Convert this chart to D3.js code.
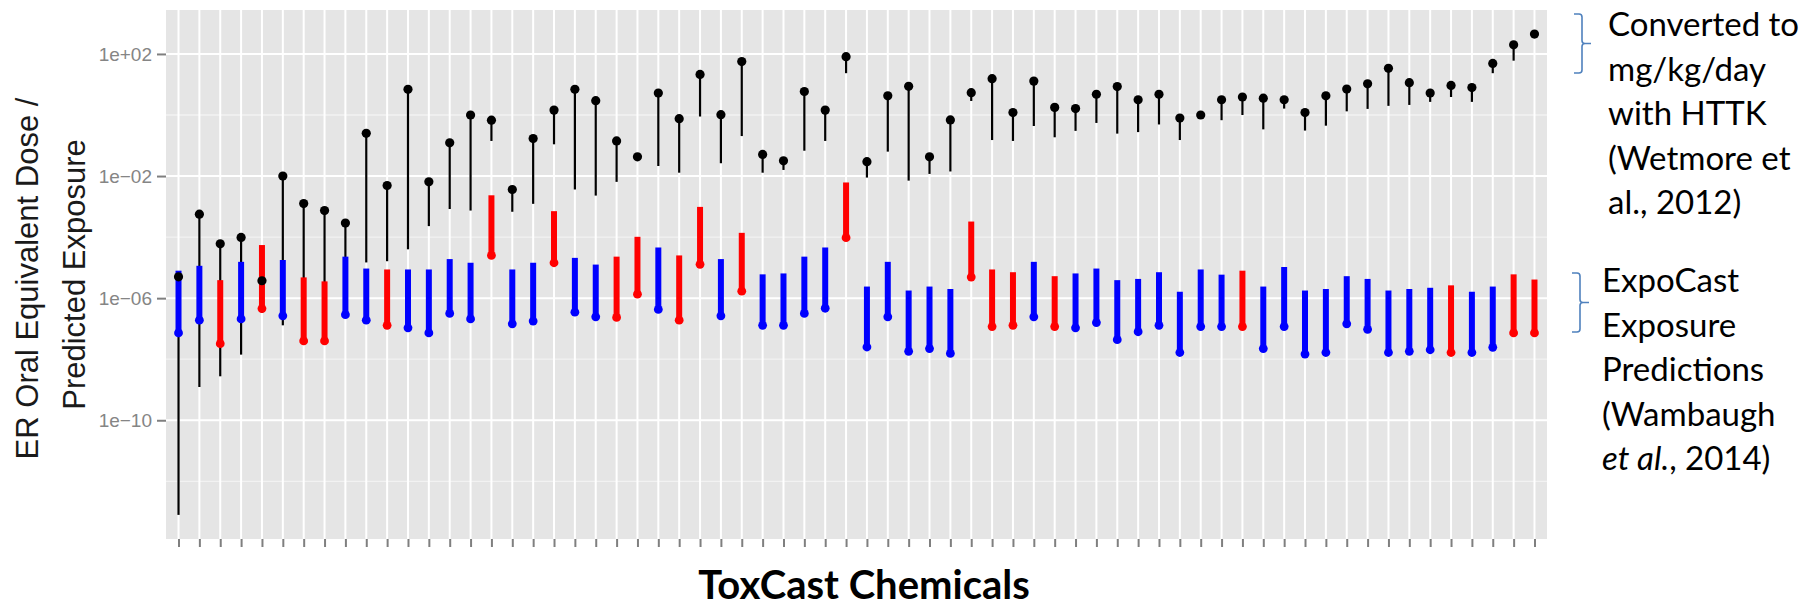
<!DOCTYPE html>
<html>
<head>
<meta charset="utf-8">
<script src="https://cdnjs.cloudflare.com/ajax/libs/d3/7.8.5/d3.min.js"></script>
<style>
  body { margin: 0; background: #fff; }
</style>
</head>
<body>
<div id="chart"></div>
<script>
// one entry per ToxCast chemical, values are log10
const doseTop = [-5.30, -3.25, -4.22, -4.01, -5.43, -2.00, -2.90, -3.13, -3.54, -0.60,
    -2.31, 0.84, -2.19, -0.91, 0.00, -0.17, -2.44, -0.77, 0.16, 0.84,
    0.47, -0.85, -1.37, 0.72, -0.12, 1.33, 0.01, 1.75, -1.29, -1.50,
    0.77, 0.16, 1.91, -1.53, 0.63, 0.94, -1.37, -0.16, 0.73, 1.19,
    0.08, 1.11, 0.25, 0.21, 0.68, 0.93, 0.50, 0.68, -0.10, 0.00,
    0.50, 0.59, 0.55, 0.50, 0.08, 0.63, 0.85, 1.02, 1.53, 1.06,
    0.72, 0.97, 0.90, 1.69, 2.30, 2.65];
const doseLow = [-13.10, -8.91, -8.56, -7.85, -6.48, -6.89, -6.00, -6.00, -5.50, -4.83,
    -4.79, -4.40, -3.64, -3.08, -3.13, -0.85, -3.17, -2.91, -0.96, -2.44,
    -2.64, -2.19, -1.45, -1.67, -1.89, -0.05, -1.58, -0.69, -1.89, -1.80,
    -1.17, -0.85, 1.37, -2.05, -1.20, -2.15, -1.93, -1.85, 0.46, -0.82,
    -0.85, -0.36, -0.73, -0.52, -0.26, -0.61, -0.56, -0.31, -0.82, -0.05,
    -0.17, 0.00, -0.47, 0.21, -0.51, -0.35, 0.12, 0.20, 0.30, 0.33,
    0.43, 0.59, 0.43, 1.37, 1.78, 2.55];
const expoHigh = [-5.10, -4.94, -5.41, -4.81, -4.26, -4.75, -5.32, -5.45, -4.64, -5.03,
    -5.06, -5.06, -5.06, -4.72, -4.84, -2.63, -5.06, -4.84, -3.15, -4.68,
    -4.90, -4.64, -3.99, -4.34, -4.60, -3.01, -4.72, -3.86, -5.22, -5.19,
    -4.64, -4.34, -2.21, -5.62, -4.81, -5.75, -5.62, -5.70, -3.49, -5.06,
    -5.15, -4.81, -5.28, -5.19, -5.03, -5.41, -5.37, -5.15, -5.79, -5.06,
    -5.23, -5.10, -5.62, -4.98, -5.75, -5.70, -5.28, -5.37, -5.75, -5.70,
    -5.66, -5.58, -5.79, -5.62, -5.22, -5.39];
const expoMedian = [-7.14, -6.72, -7.49, -6.68, -6.34, -6.58, -7.40, -7.40, -6.54, -6.72,
    -6.89, -6.97, -7.14, -6.50, -6.68, -4.60, -6.84, -6.75, -4.84, -6.46,
    -6.61, -6.63, -5.87, -6.37, -6.72, -4.89, -6.58, -5.77, -6.89, -6.89,
    -6.50, -6.33, -4.02, -7.60, -6.61, -7.74, -7.65, -7.81, -5.31, -6.93,
    -6.89, -6.61, -6.93, -6.97, -6.80, -7.36, -7.10, -6.89, -7.78, -6.93,
    -6.93, -6.93, -7.65, -6.93, -7.83, -7.78, -6.84, -7.02, -7.78, -7.74,
    -7.69, -7.78, -7.78, -7.61, -7.14, -7.14];
const expoGroup = ['A', 'A', 'B', 'A', 'B', 'A', 'B', 'B', 'A', 'A',
    'B', 'A', 'A', 'A', 'A', 'B', 'A', 'A', 'B', 'A',
    'A', 'B', 'B', 'A', 'B', 'B', 'A', 'B', 'A', 'A',
    'A', 'A', 'B', 'A', 'A', 'A', 'A', 'A', 'B', 'B',
    'B', 'A', 'B', 'A', 'A', 'A', 'A', 'A', 'A', 'A',
    'A', 'B', 'A', 'A', 'A', 'A', 'A', 'A', 'A', 'A',
    'A', 'B', 'A', 'A', 'B', 'B'];

const yMajorTicks = [1e2, 1e-2, 1e-6, 1e-10];
const yMinorTicks = [1e0, 1e-4, 1e-8, 1e-12];
const yTickLabels = ['1e+02', '1e\u221202', '1e\u221206', '1e\u221210'];
const yTitle = ['ER Oral Equivalent Dose /', 'Predicted Exposure'];
const xTitle = 'ToxCast Chemicals';
const noteTop = ['Converted to', 'mg/kg/day', 'with HTTK', '(Wetmore et', 'al., 2012)'];
const noteBottom = ['ExpoCast', 'Exposure', 'Predictions', '(Wambaugh', 'et al., 2014)'];

const W = 1816, H = 607;
const panel = { left: 166, right: 1547, top: 10, bottom: 539 };

const data = doseTop.map((d, i) => ({
    id: i,
    doseTop: Math.pow(10, d),
    doseLow: Math.pow(10, doseLow[i]),
    expoHigh: Math.pow(10, expoHigh[i]),
    expoMedian: Math.pow(10, expoMedian[i]),
    group: expoGroup[i]
}));

const svg = d3.select('#chart').append('svg')
    .attr('width', W)
    .attr('height', H)
    .style('font-family', '"Liberation Sans", Arial, sans-serif');

svg.append('rect').attr('width', W).attr('height', H).attr('fill', '#fff');

const x = d3.scalePoint()
    .domain(data.map(d => d.id))
    .range([panel.left, panel.right])
    .padding(0.6);

const y = d3.scaleLog()
    .domain([Math.pow(10, -13.89), Math.pow(10, 3.44)])
    .range([panel.bottom, panel.top]);

const color = d3.scaleOrdinal().domain(['A', 'B']).range(['#0000ff', '#ff0000']);

// panel + grid
svg.append('rect')
    .attr('x', panel.left).attr('y', panel.top)
    .attr('width', panel.right - panel.left)
    .attr('height', panel.bottom - panel.top)
    .attr('fill', '#e5e5e5');

svg.append('g').selectAll('line')
    .data(yMinorTicks)
    .enter().append('line')
    .attr('x1', panel.left).attr('x2', panel.right)
    .attr('y1', d => y(d)).attr('y2', d => y(d))
    .attr('stroke', '#f2f2f2')
    .attr('stroke-width', 1.3);

svg.append('g').selectAll('line')
    .data(yMajorTicks)
    .enter().append('line')
    .attr('x1', panel.left).attr('x2', panel.right)
    .attr('y1', d => y(d)).attr('y2', d => y(d))
    .attr('stroke', '#fff')
    .attr('stroke-width', 2);

svg.append('g').selectAll('line')
    .data(data)
    .enter().append('line')
    .attr('x1', d => x(d.id)).attr('x2', d => x(d.id))
    .attr('y1', panel.top).attr('y2', panel.bottom)
    .attr('stroke', '#fff')
    .attr('stroke-width', 2);

// axes
const yAxis = svg.append('g')
    .attr('transform', 'translate(' + panel.left + ',0)')
    .call(d3.axisLeft(y)
        .tickValues(yMajorTicks)
        .tickFormat((d, i) => yTickLabels[i])
        .tickSize(9)
        .tickPadding(5));
yAxis.select('.domain').remove();
yAxis.selectAll('line').attr('stroke', '#7f7f7f').attr('stroke-width', 2);
yAxis.selectAll('text')
    .attr('fill', '#858585')
    .style('font-size', '19px')
    .style('font-family', '"Liberation Sans", Arial, sans-serif');

const xAxis = svg.append('g')
    .attr('transform', 'translate(0,' + panel.bottom + ')')
    .call(d3.axisBottom(x).tickSize(8).tickFormat(''));
xAxis.select('.domain').remove();
xAxis.selectAll('line').attr('stroke', '#7f7f7f').attr('stroke-width', 2);

// dose ranges (black), exposure ranges (coloured)
svg.append('g').selectAll('line')
    .data(data)
    .enter().append('line')
    .attr('x1', d => x(d.id)).attr('x2', d => x(d.id))
    .attr('y1', d => y(d.doseTop)).attr('y2', d => y(d.doseLow))
    .attr('stroke', '#000')
    .attr('stroke-width', 2.2);

svg.append('g').selectAll('line')
    .data(data)
    .enter().append('line')
    .attr('x1', d => x(d.id)).attr('x2', d => x(d.id))
    .attr('y1', d => y(d.expoHigh)).attr('y2', d => y(d.expoMedian))
    .attr('stroke', d => color(d.group))
    .attr('stroke-width', 6);

svg.append('g').selectAll('circle')
    .data(data)
    .enter().append('circle')
    .attr('cx', d => x(d.id))
    .attr('cy', d => y(d.doseTop))
    .attr('r', 4.6)
    .attr('fill', '#000');

svg.append('g').selectAll('circle')
    .data(data)
    .enter().append('circle')
    .attr('cx', d => x(d.id))
    .attr('cy', d => y(d.expoMedian))
    .attr('r', 4.4)
    .attr('fill', d => color(d.group));

// axis titles
const yt = svg.append('g')
    .attr('transform', 'translate(0,' + ((panel.top + panel.bottom) / 2 + 1) + ') rotate(-90)');
yt.selectAll('text')
    .data(yTitle)
    .enter().append('text')
    .attr('x', (d, i) => i === 0 ? -3 : 1)
    .attr('y', (d, i) => i === 0 ? 37.5 : 85)
    .attr('text-anchor', 'middle')
    .attr('fill', '#1a1a1a')
    .style('font-size', '31px')
    .text(d => d);

svg.append('text')
    .attr('x', 864)
    .attr('y', 599)
    .attr('text-anchor', 'middle')
    .style('font-family', 'Lato, "Open Sans", sans-serif')
    .style('font-weight', 'bold')
    .style('font-size', '40px')
    .attr('fill', '#000')
    .text(xTitle);

// notes on the right with their braces
const noteFont = 'Lato, "Open Sans", sans-serif';

svg.append('g').selectAll('text')
    .data(noteTop)
    .enter().append('text')
    .attr('x', 1608)
    .attr('y', (d, i) => 36 + i * 44.5)
    .style('font-family', noteFont)
    .style('font-size', '33px')
    .attr('fill', '#000')
    .text(d => d);

const nb = svg.append('g').selectAll('text')
    .data(noteBottom)
    .enter().append('text')
    .attr('x', 1602)
    .attr('y', (d, i) => 292 + i * 44.5)
    .style('font-family', noteFont)
    .style('font-size', '33px')
    .attr('fill', '#000');

nb.each(function (d) {
    const t = d3.select(this);
    if (d.startsWith('et al.')) {
        t.append('tspan').style('font-style', 'italic').text('et al.');
        t.append('tspan').text(d.slice(6));
    } else {
        t.text(d);
    }
});

function brace(xv, y0, y1) {
    const ym = (y0 + y1) / 2;
    return 'M' + (xv - 8) + ',' + y0 +
        ' L' + (xv - 3) + ',' + y0 + ' Q' + xv + ',' + y0 + ' ' + xv + ',' + (y0 + 3) +
        ' L' + xv + ',' + (ym - 3) + ' Q' + xv + ',' + ym + ' ' + (xv + 3) + ',' + ym +
        ' L' + (xv + 9) + ',' + ym +
        ' M' + (xv + 3) + ',' + ym + ' Q' + xv + ',' + ym + ' ' + xv + ',' + (ym + 3) +
        ' L' + xv + ',' + (y1 - 3) + ' Q' + xv + ',' + y1 + ' ' + (xv - 3) + ',' + y1 +
        ' L' + (xv - 8) + ',' + y1;
}

svg.append('path')
    .attr('d', brace(1582, 14, 73))
    .attr('fill', 'none')
    .attr('stroke', '#4f81bd')
    .attr('stroke-width', 1.6);

svg.append('path')
    .attr('d', brace(1580, 273, 332))
    .attr('fill', 'none')
    .attr('stroke', '#4f81bd')
    .attr('stroke-width', 1.6);
</script>
</body>
</html>
